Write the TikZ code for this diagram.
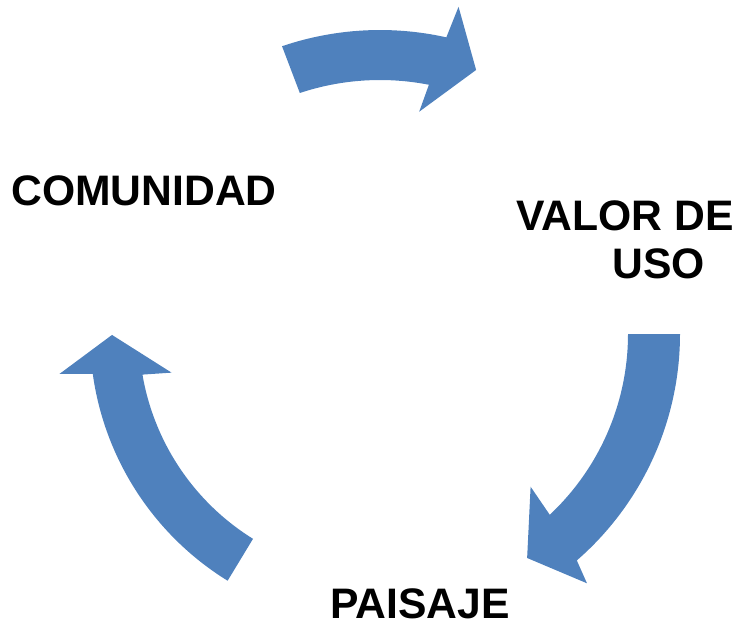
\documentclass[tikz,border=0pt]{standalone}
\usepackage{fontspec}
\setmainfont{Liberation Sans}
\definecolor{cycleblue}{RGB}{79,129,189}

\begin{document}
\begin{tikzpicture}[x=0.75pt,y=0.75pt,yscale=-1,xscale=1,
  arrowshape/.style={fill=cycleblue, draw=none},
  caption/.style={anchor=base west, inner sep=0pt, font=\fontsize{32}{38}\selectfont\bfseries}]
%set diagram frame: 735 x 625
\useasboundingbox (0,0) rectangle (735,625);

\begin{scope}[shift={(380,334)}]
%Shape: Circular Arrow [top]
\fill [arrowshape] (251.2:304) arc [start angle=251.2, end angle=282.6, radius=304] -- (283.5:336.5) -- (290:281) -- (280:225.7) -- (281.1:254) arc [start angle=281.1, end angle=251.6, radius=254] -- cycle ;
%Shape: Circular Arrow [right]
\fill [arrowshape] (0:300) arc [start angle=0, end angle=49, radius=300] -- (50.3:324) -- (56.7:268) -- (45.4:214.5) -- (46.8:248) arc [start angle=46.8, end angle=0, radius=248] -- cycle ;
%Shape: Circular Arrow [left]
\fill [arrowshape] (121.7:290) arc [start angle=121.7, end angle=172.1, radius=290] -- (172.9:323) -- (179.8:268) -- (169.5:212) -- (170.3:241) arc [start angle=170.3, end angle=121.8, radius=241] -- cycle ;
\end{scope}

% Text Node
\node [caption] (comunidad) at (11,205) {COMUNIDAD};
% Text Node
\node [caption] (valor) at (516,230) {VALOR DE};
% Text Node
\node [caption] (uso) at (612,278) {USO};
% Text Node
\node [caption] (paisaje) at (330,618) {PAISAJE};

\end{tikzpicture}
\end{document}
